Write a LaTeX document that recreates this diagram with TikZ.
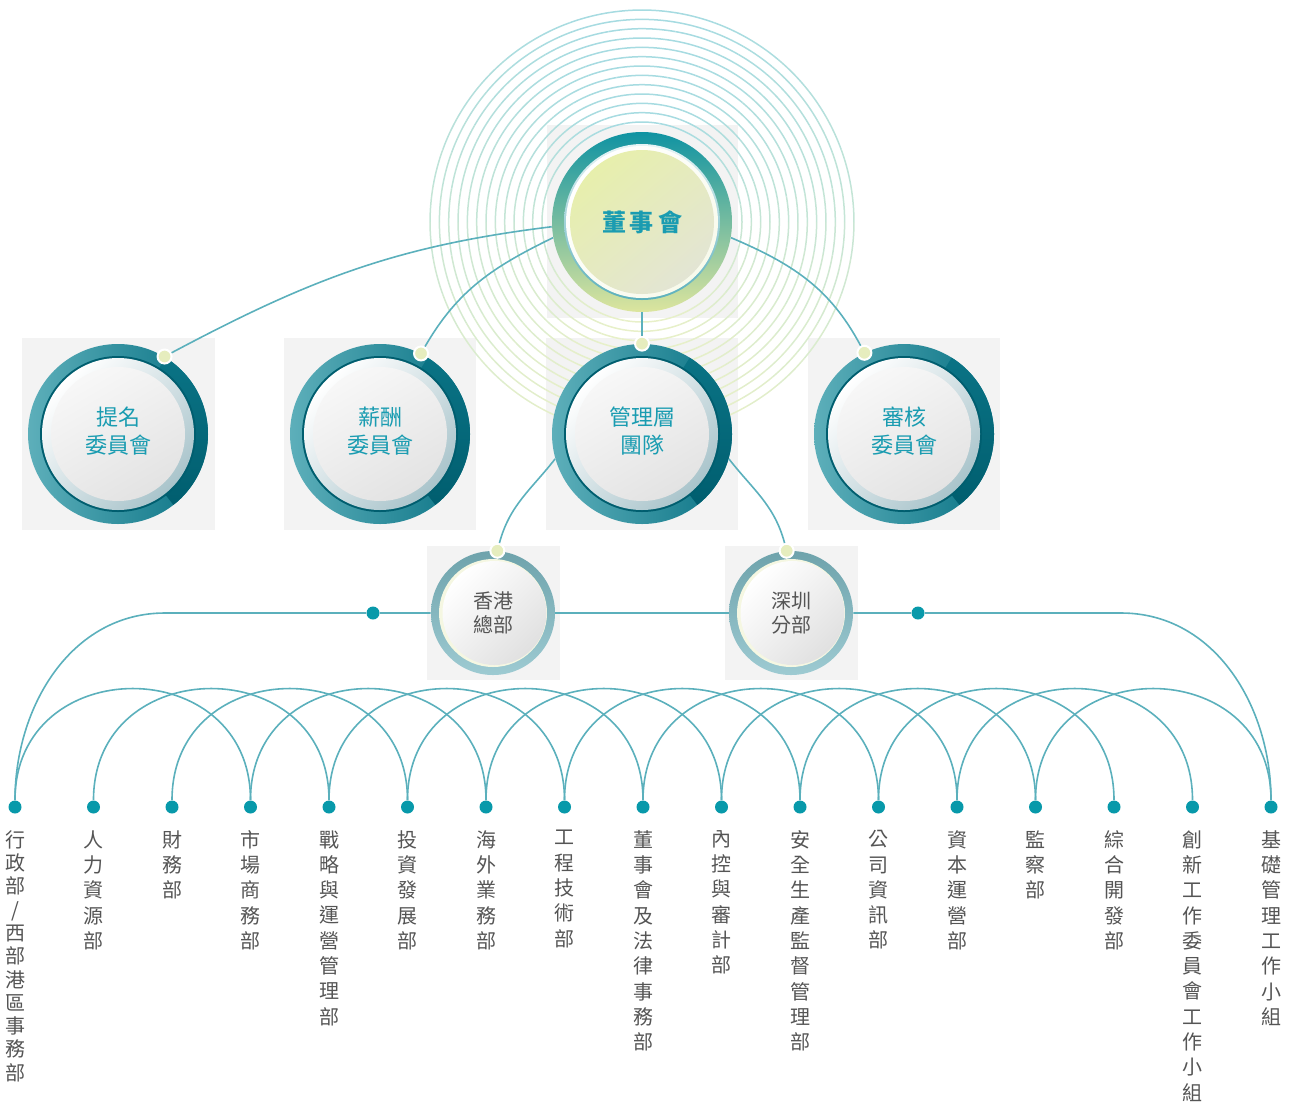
\documentclass[tikz,border=0pt]{standalone}
\usepackage{fontspec}
\setmainfont{Noto Sans CJK TC}
\usetikzlibrary{calc}

\definecolor{lineteal}{HTML}{5BB0BC}
\definecolor{dotteal}{HTML}{0899AA}
\definecolor{knobyellow}{HTML}{E6EDBE}
\definecolor{bggray}{HTML}{F3F3F3}
\definecolor{halotop}{HTML}{A6DBE1}
\definecolor{halobot}{HTML}{E8F0C9}
\definecolor{ringlt}{HTML}{5DAFBA}
\definecolor{ringdk}{HTML}{0A7385}
\definecolor{ringdeep}{HTML}{005E6F}
\definecolor{discblue}{HTML}{A9C4CB}
\definecolor{txtteal}{HTML}{1A9CB1}
\definecolor{txtgray}{HTML}{555555}
\definecolor{hqring}{HTML}{7DB9C3}
\definecolor{boardtop}{HTML}{1093A2}
\definecolor{boardbot}{HTML}{DCE59E}
\definecolor{boardin}{HTML}{E7EFAC}
\definecolor{boardin2}{HTML}{E3E5D4}

% ring decorations, drawn under the text nodes
\newcommand{\cmtdisc}[1]{%
  \begin{scope}[shift={#1}]
    \shade[left color=ringlt, right color=ringdk] (0,0) circle[radius=90];
    \shade[top color=ringdk, bottom color=ringdeep] (58:90) arc[start angle=58, end angle=-52, radius=90]
      -- (-52:76) arc[start angle=-52, end angle=58, radius=76] -- cycle;
    \fill[ringdeep] (0,0) circle[radius=78];
    \shade[top color=white, bottom color=discblue, shading angle=45] (0,0) circle[radius=76];
    \shade[top color=white!97!black, bottom color=white!89!black, shading angle=30] (0,0) circle[radius=67];
  \end{scope}}
\newcommand{\boarddisc}[1]{%
  \begin{scope}[shift={#1}]
    \shade[top color=boardtop, bottom color=boardbot] (0,0) circle[radius=90];
    \shade[top color=white!90!boardtop, bottom color=lineteal] (0,0) circle[radius=78];
    \shade[top color=white, bottom color=white!80!boardbot, shading angle=45] (0,0) circle[radius=76];
    \shade[top color=boardin, bottom color=boardin2, shading angle=40] (0,0) circle[radius=72];
  \end{scope}}
\newcommand{\hqdisc}[1]{%
  \begin{scope}[shift={#1}]
    \shade[top color=hqring!88!black, bottom color=hqring!75!white] (0,0) circle[radius=62];
    \fill[white!70!boardbot] (0,0) circle[radius=54];
    \shade[top color=white, bottom color=white!88!black, shading angle=45] (1.5,0) circle[radius=52];
  \end{scope}}

\begin{document}
\begin{tikzpicture}[x=0.5pt, y=0.5pt,
    conn/.style={draw=lineteal, line width=0.8pt},
    halo/.style={line width=0.75pt},
    backsq/.style={fill=bggray, draw=none},
    knob/.style={circle, fill=knobyellow, draw=white, line width=1pt, inner sep=0pt, minimum size=7pt},
    tdot/.style={circle, fill=dotteal, inner sep=0pt, minimum size=6.5pt},
    boardnode/.style={circle, inner sep=0pt, minimum size=90pt, text=txtteal, font=\fontsize{12}{14}\selectfont\bfseries},
    cmt/.style={circle, inner sep=0pt, minimum size=90pt, align=center, text=txtteal, font=\fontsize{11}{14}\selectfont},
    hq/.style={circle, inner sep=0pt, minimum size=62pt, align=center, text=txtgray, font=\fontsize{10}{12}\selectfont},
    dept/.style={anchor=north, inner sep=0pt, align=center, text=txtgray, font=\fontsize{10}{12.65}\selectfont}]
\useasboundingbox (0,0) rectangle (1289,-1104);

\coordinate (cb) at (642,-222);
\coordinate (cn) at (118,-434);
\coordinate (cr) at (380,-434);
\coordinate (cm) at (642,-434);
\coordinate (ca) at (904,-434);
\coordinate (ch) at (493,-613);
\coordinate (cs) at (791,-613);

% grey backing squares
\fill[backsq] (547,-125) rectangle (738,-318);
\fill[backsq] (22,-338) rectangle (215,-530);
\fill[backsq] (284,-338) rectangle (476,-530);
\fill[backsq] (546,-338) rectangle (738,-530);
\fill[backsq] (808,-338) rectangle (1000,-530);
\fill[backsq] (427,-546) rectangle (560,-680);
\fill[backsq] (725,-546) rectangle (858,-680);

% rings round the board
\begin{scope}[shift={(cb)}]
  \foreach \k in {0,...,12}
    \foreach \a in {0,10,...,350}{
      \pgfmathsetmacro\rr{100+9.33*\k}
      \pgfmathsetmacro\mixv{50+50*sin(\a+5)}
      \draw[halo, draw=halotop!\mixv!halobot] (\a:\rr) arc[start angle=\a, end angle=\a+10, radius=\rr];
    }
\end{scope}

\boarddisc{(cb)}
\cmtdisc{(cn)}
\cmtdisc{(cr)}
\cmtdisc{(cm)}
\cmtdisc{(ca)}
\hqdisc{(ch)}
\hqdisc{(cs)}

\node[boardnode] (board) at (cb) {董\hspace{2pt}事\hspace{2pt}會};
\node[cmt] (nom) at (cn) {\raisebox{2pt}{\begin{tabular}{@{}c@{}}提名\\委員會\end{tabular}}};
\node[cmt] (rem) at (cr) {\raisebox{2pt}{\begin{tabular}{@{}c@{}}薪酬\\委員會\end{tabular}}};
\node[cmt] (mgt) at (cm) {\raisebox{2pt}{\begin{tabular}{@{}c@{}}管理層\\團隊\end{tabular}}};
\node[cmt] (aud) at (ca) {\raisebox{2pt}{\begin{tabular}{@{}c@{}}審核\\委員會\end{tabular}}};
\node[hq] (hk) at (ch) {香港\\總部};
\node[hq] (sz) at (cs) {深圳\\分部};

\node[knob] (nomk) at (nom.59) {};
\node[knob] (remk) at (rem.63) {};
\node[knob] (mgtk) at (mgt.90) {};
\node[knob] (audk) at (aud.116) {};
\node[knob] (hkk) at (hk.86) {};
\node[knob] (szk) at (sz.94) {};

\draw[conn] (board.183) to[out=187,in=28] (nomk);
\draw[conn] (board.190) to[out=206,in=60] (remk);
\draw[conn] (board.south) -- (mgtk);
\draw[conn] (board.-10) to[out=-23,in=118] (audk);
\draw[conn] (mgt.196) to[out=232,in=75] (hkk);
\draw[conn] (mgt.-16) to[out=-52,in=105] (szk);

% departments
\foreach \i in {0,...,16}
  \node[tdot] (d\i) at ({15+78.5*\i},-807) {};
\foreach \i [evaluate=\i as \j using int(\i+3)] in {0,...,13}
  \draw[conn] (d\i) to[out=90,in=90,looseness=1.62] (d\j);

\coordinate (lk) at (165,-613);
\coordinate (rk) at (1121,-613);
\node[tdot] (hkd) at (373,-613) {};
\node[tdot] (szd) at (918,-613) {};
\draw[conn] (d0) to[out=90,in=180] (lk) -- (hkd) -- (hk);
\draw[conn] (hk) -- (sz);
\draw[conn] (sz) -- (szd) -- (rk) to[out=0,in=90] (d16);

\node[dept, font=\fontsize{10}{11.65}\selectfont] (l0) at ($(d0)+(0,-23)$)
  {行\\政\\部\\/\\西\\部\\港\\區\\事\\務\\部};
\foreach \lab [count=\i from 1] in {
    {人\\力\\資\\源\\部},
    {財\\務\\部},
    {市\\場\\商\\務\\部},
    {戰\\略\\與\\運\\營\\管\\理\\部},
    {投\\資\\發\\展\\部},
    {海\\外\\業\\務\\部},
    {工\\程\\技\\術\\部},
    {董\\事\\會\\及\\法\\律\\事\\務\\部},
    {內\\控\\與\\審\\計\\部},
    {安\\全\\生\\產\\監\\督\\管\\理\\部},
    {公\\司\\資\\訊\\部},
    {資\\本\\運\\營\\部},
    {監\\察\\部},
    {綜\\合\\開\\發\\部},
    {創\\新\\工\\作\\委\\員\\會\\工\\作\\小\\組},
    {基\\礎\\管\\理\\工\\作\\小\\組}}
  \node[dept] (l\i) at ($(d\i)+(0,-23)$) {\lab};
\end{tikzpicture}
\end{document}
